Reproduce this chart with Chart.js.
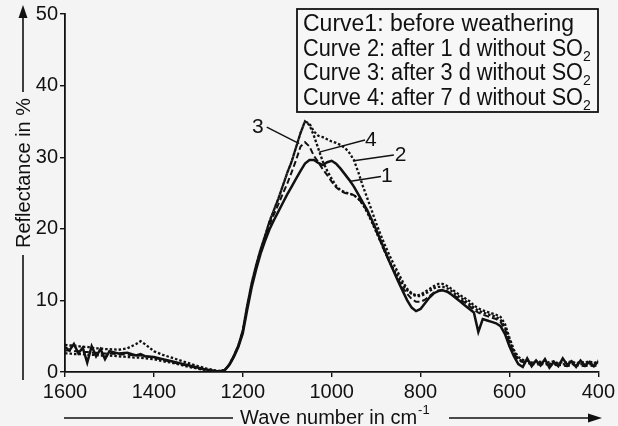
<!DOCTYPE html>
<html>
<head>
<meta charset="utf-8">
<script src="https://cdn.jsdelivr.net/npm/chart.js@4.4.1/dist/chart.umd.min.js"></script>
<style>
  html, body { margin: 0; padding: 0; background: #f4f4f4; }
  #wrap { width: 618px; height: 426px; position: relative; }
</style>
</head>
<body>
<div id="wrap"><canvas id="c" width="618" height="426"></canvas></div>
<script>
// Wave numbers (cm^-1)
const waveNumbers = [
  1600,1590,1580,1570,1560,1550,1540,1530,1520,1510,
  1500,1480,1460,1440,1430,1420,1400,1380,1360,1340,
  1320,1300,1280,1260,1250,
  1240,1230,1220,1210,1200,1190,1180,1170,1160,1150,
  1140,1130,1120,1110,1100,1090,1080,1070,1060,1050,
  1040,1030,1020,1010,1000,990,980,970,960,950,
  940,930,920,910,900,890,880,870,860,850,
  840,830,820,810,800,790,780,770,760,750,
  740,730,720,710,700,690,680,670,660,650,
  640,630,620,610,600,590,580,570,560,550,
  540,530,520,510,500,490,480,470,460,450,
  440,430,420,410,400
];

// Curve 1: before weathering
const curve1 = [
  3.5,3.0,3.9,2.6,3.4,1.3,3.6,2.2,3.2,1.8,
  2.9,2.6,2.7,2.3,2.5,2.2,2.1,1.8,1.5,1.2,
  0.9,0.6,0.3,0.15,0.1,
  0.3,1.0,2.1,3.5,5.4,8.7,11.8,14.3,16.5,18.3,
  19.9,21.2,22.4,23.6,24.8,25.9,27.0,28.1,29.1,29.6,
  29.6,29.2,28.9,29.3,29.5,29.1,28.4,27.6,26.8,25.9,
  24.8,23.7,22.6,21.3,19.9,18.4,16.9,15.4,14.0,12.6,
  11.3,10.0,9.0,8.5,8.8,9.6,10.4,11.0,11.3,11.4,
  11.2,10.8,10.3,9.8,9.3,8.8,8.3,5.6,7.4,7.2,
  7.0,6.8,6.4,5.3,3.6,2.2,1.1,0.7,1.9,0.8,
  1.6,0.9,1.8,0.6,1.4,0.8,1.9,1.0,1.5,0.7,
  1.6,0.9,1.4,0.8,1.5
];

// Curve 2: after 1 d without SO2
const curve2 = [
  3.8,3.7,3.7,3.6,3.5,3.5,3.4,3.3,3.3,3.2,
  3.2,3.1,3.3,3.9,4.3,3.9,2.9,2.4,2.0,1.6,
  1.2,0.8,0.45,0.2,0.15,
  0.3,1.1,2.3,3.7,5.8,9.3,12.4,14.9,17.1,19.0,
  21.0,22.6,24.2,26.0,27.8,29.4,31.4,33.4,35.0,34.7,
  33.6,33.0,32.8,32.5,32.2,32.0,31.7,31.3,30.6,29.6,
  27.9,26.0,24.3,22.6,20.8,19.2,17.7,16.3,15.0,13.8,
  12.6,11.6,11.0,10.7,10.8,11.2,11.6,12.0,12.3,12.3,
  12.0,11.6,11.1,10.7,10.3,9.9,9.3,8.9,8.6,8.4,
  8.2,8.0,7.7,6.7,4.8,3.1,2.1,1.7,1.6,1.3,
  1.5,1.4,1.6,1.3,1.5,1.2,1.4,1.3,1.5,1.2,
  1.4,1.3,1.5,1.2,1.6
];

// Curve 3: after 3 d without SO2
const curve3 = [
  3.0,3.0,2.9,2.9,2.8,2.8,2.7,2.7,2.6,2.6,
  2.6,2.5,2.4,2.3,2.3,2.2,2.0,1.7,1.4,1.1,
  0.8,0.5,0.25,0.1,0.1,
  0.3,1.0,2.2,3.6,5.6,9.0,12.2,14.7,16.9,18.8,
  20.5,22.0,23.4,24.9,26.3,27.9,29.6,31.5,32.1,31.5,
  30.2,29.3,28.3,27.5,26.6,25.8,25.3,25.0,24.9,24.7,
  24.2,23.5,22.4,21.1,19.7,18.2,16.7,15.4,14.1,12.9,
  11.8,10.9,10.2,9.8,9.8,10.1,10.6,11.1,11.4,11.5,
  11.3,10.9,10.5,10.1,9.7,9.2,8.7,8.3,8.0,7.8,
  7.6,7.4,7.0,6.0,4.1,2.6,1.6,1.4,1.2,1.1,
  1.0,1.1,1.0,1.0,0.9,1.0,0.9,0.8,1.0,0.9,
  0.9,0.8,0.9,0.8,1.0
];

// Curve 4: after 7 d without SO2
const curve4 = [
  2.6,2.6,2.5,2.5,2.5,2.4,2.4,2.4,2.3,2.3,
  2.3,2.2,2.1,2.0,2.0,1.9,1.8,1.5,1.3,1.0,
  0.7,0.45,0.2,0.1,0.1,
  0.3,1.1,2.3,3.7,5.8,9.3,12.4,14.9,17.1,19.0,
  21.0,22.6,24.2,26.0,27.8,29.4,31.4,33.4,35.0,34.5,
  33.0,31.2,29.4,28.1,27.0,26.0,25.4,25.1,24.9,24.7,
  24.2,23.4,22.3,21.0,19.6,18.2,16.8,15.5,14.3,13.2,
  12.2,11.4,10.9,10.6,10.6,10.9,11.3,11.7,11.9,11.9,
  11.7,11.3,10.8,10.4,10.0,9.5,9.0,8.6,8.3,8.1,
  7.9,7.7,7.3,6.3,4.4,2.8,1.8,1.5,1.3,1.4,
  1.2,1.3,1.1,1.2,1.0,1.2,1.1,1.0,1.2,1.0,
  1.1,1.0,1.1,1.0,1.2
];

const yTicks = [0, 10, 20, 30, 40, 50];
const xTicks = [1600, 1400, 1200, 1000, 800, 600, 400];

const legendLines = [
  { main: "Curve1: before weathering", sub: "" },
  { main: "Curve 2: after 1 d without SO", sub: "2" },
  { main: "Curve 3: after 3 d without SO", sub: "2" },
  { main: "Curve 4: after 7 d without SO", sub: "2" }
];

// Curve number labels: [label, textX, textY, leaderFromX, leaderFromY, leaderToX, leaderToY] in data units
const curveLabels = [
  ["3", 1166, 34.2, 1146, 34.2, 1073, 31.9],
  ["4", 912, 32.4, 925, 32.4, 1028, 30.7],
  ["2", 845, 30.3, 860, 30.3, 950, 29.5],
  ["1", 876, 27.3, 889, 27.3, 961, 26.6]
];

const FONT = "'Liberation Sans', Arial, sans-serif";

function toPts(vals) {
  return waveNumbers.map((w, i) => ({ x: w, y: vals[i] }));
}

const bgPlugin = {
  id: 'bg',
  beforeDraw(chart) {
    const ctx = chart.ctx;
    ctx.save();
    ctx.fillStyle = '#f4f4f4';
    ctx.fillRect(0, 0, chart.width, chart.height);
    ctx.restore();
  }
};

const decoPlugin = {
  id: 'deco',
  afterDraw(chart) {
    const ctx = chart.ctx;
    const xs = chart.scales.x, ys = chart.scales.y;
    ctx.save();
    ctx.fillStyle = '#111';
    ctx.strokeStyle = '#111';

    // Legend box
    ctx.lineWidth = 1.8;
    ctx.fillStyle = '#f7f7f7';
    ctx.fillRect(297, 9, 301, 103);
    ctx.strokeRect(297, 9, 301, 103);
    ctx.fillStyle = '#111';
    ctx.textBaseline = 'alphabetic';
    ctx.textAlign = 'left';
    legendLines.forEach((ln, i) => {
      const y = 31 + i * 24.5;
      ctx.font = '23px ' + FONT;
      const natural = ctx.measureText(ln.main).width;
      const w = ln.sub ? Math.min(natural, 280) : natural;
      ctx.fillText(ln.main, 303, y, w);
      if (ln.sub) {
        ctx.font = '14px ' + FONT;
        ctx.fillText(ln.sub, 303 + w, y + 5);
      }
    });

    // Curve labels with leader lines
    ctx.lineWidth = 1.4;
    ctx.font = '21px ' + FONT;
    ctx.textAlign = 'center';
    ctx.textBaseline = 'middle';
    curveLabels.forEach(l => {
      ctx.fillText(l[0], xs.getPixelForValue(l[1]), ys.getPixelForValue(l[2]));
      ctx.beginPath();
      ctx.moveTo(xs.getPixelForValue(l[3]), ys.getPixelForValue(l[4]));
      ctx.lineTo(xs.getPixelForValue(l[5]), ys.getPixelForValue(l[6]));
      ctx.stroke();
    });

    // Y axis title with arrow
    ctx.lineWidth = 1.6;
    const ax = 23;
    ctx.beginPath();
    ctx.moveTo(ax, 380); ctx.lineTo(ax, 255);
    ctx.moveTo(ax, 92); ctx.lineTo(ax, 14);
    ctx.stroke();
    ctx.beginPath();
    ctx.moveTo(ax, 5); ctx.lineTo(ax - 4.5, 18); ctx.lineTo(ax + 4.5, 18); ctx.closePath();
    ctx.fill();
    ctx.save();
    ctx.translate(ax + 1, 173);
    ctx.rotate(-Math.PI / 2);
    ctx.font = '20px ' + FONT;
    ctx.textAlign = 'center';
    ctx.textBaseline = 'middle';
    ctx.fillText('Reflectance in %', 0, 0);
    ctx.restore();

    // X axis title with arrow
    const ay = 418;
    ctx.beginPath();
    ctx.moveTo(64, ay); ctx.lineTo(233, ay);
    ctx.moveTo(449, ay); ctx.lineTo(590, ay);
    ctx.stroke();
    ctx.beginPath();
    ctx.moveTo(602, ay); ctx.lineTo(588, ay - 4.5); ctx.lineTo(588, ay + 4.5); ctx.closePath();
    ctx.fill();
    ctx.font = '20px ' + FONT;
    ctx.textAlign = 'left';
    ctx.textBaseline = 'alphabetic';
    const t = 'Wave number in cm';
    ctx.fillText(t, 240, 424);
    const tw = ctx.measureText(t).width;
    ctx.font = '13px ' + FONT;
    ctx.fillText('-1', 240 + tw + 1, 414);

    ctx.restore();
  }
};

new Chart(document.getElementById('c'), {
  type: 'line',
  data: {
    datasets: [
      { label: 'Curve 1', data: toPts(curve1), borderColor: '#111', borderWidth: 2.5, pointRadius: 0, tension: 0 },
      { label: 'Curve 2', data: toPts(curve2), borderColor: '#111', borderWidth: 2.3, borderDash: [2.5, 2], pointRadius: 0, tension: 0 },
      { label: 'Curve 3', data: toPts(curve3), borderColor: '#111', borderWidth: 2, borderDash: [6, 3], pointRadius: 0, tension: 0 },
      { label: 'Curve 4', data: toPts(curve4), borderColor: '#111', borderWidth: 2.3, borderDash: [2.5, 2], pointRadius: 0, tension: 0 }
    ]
  },
  options: {
    responsive: false,
    animation: false,
    devicePixelRatio: 1,
    layout: { padding: { top: 11, right: 17, left: 0, bottom: 0 } },
    plugins: { legend: { display: false }, tooltip: { enabled: false } },
    scales: {
      x: {
        type: 'linear',
        reverse: true,
        min: 400, max: 1600,
        afterFit: s => { s.height = 54; },
        afterBuildTicks: s => { s.ticks = xTicks.map(v => ({ value: v })); },
        grid: { display: true, drawOnChartArea: false, drawTicks: true, tickLength: 5, color: '#111', lineWidth: 1.4 },
        border: { display: true, color: '#111', width: 1.8 },
        ticks: { color: '#111', font: { family: FONT, size: 20 }, padding: 3, maxRotation: 0, autoSkip: false, callback: v => String(v) }
      },
      y: {
        min: 0, max: 50,
        afterFit: s => { s.width = 65; },
        afterBuildTicks: s => { s.ticks = yTicks.map(v => ({ value: v })); },
        grid: { display: true, drawOnChartArea: false, drawTicks: true, tickLength: 5, color: '#111', lineWidth: 1.4 },
        border: { display: true, color: '#111', width: 1.8 },
        ticks: { color: '#111', font: { family: FONT, size: 20 }, padding: 2, callback: v => String(v) }
      }
    }
  },
  plugins: [bgPlugin, decoPlugin]
});
</script>
</body>
</html>
